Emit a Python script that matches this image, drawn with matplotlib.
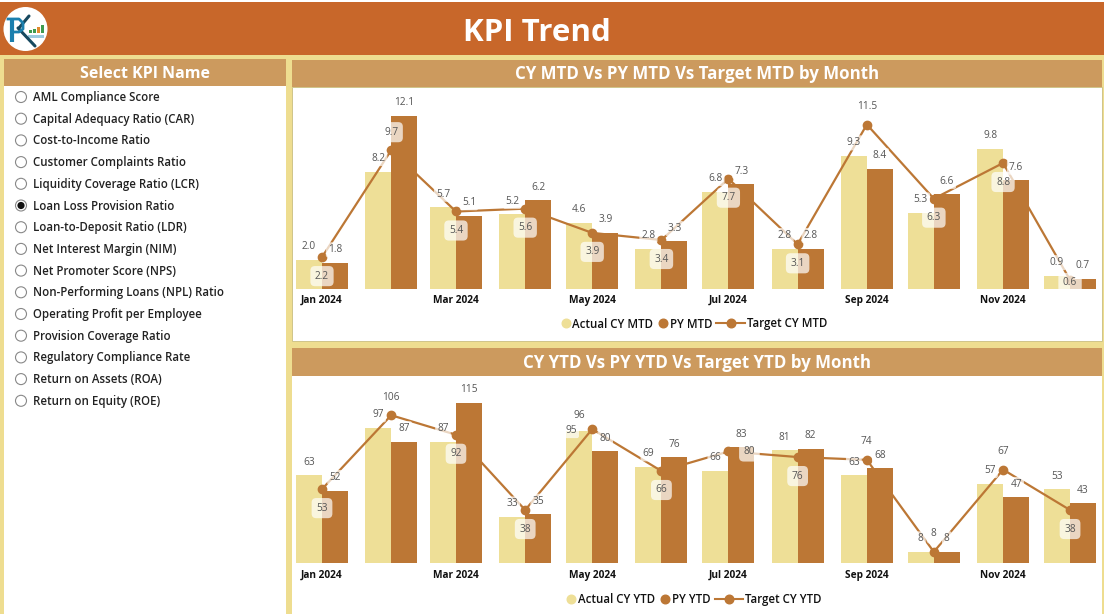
from datetime import datetime, timedelta

import matplotlib
matplotlib.use("Agg")
import matplotlib.dates as mdates
from matplotlib import pyplot as plt
from matplotlib.patches import Circle, Rectangle

plt.rcParams["font.family"] = ["Open Sans", "DejaVu Sans"]

months = [datetime(2024, m, 1) for m in range(1, 13)]
month_labels = ["Jan 2024", "Mar 2024", "May 2024", "Jul 2024", "Sep 2024", "Nov 2024"]

kpi_names = [
    "AML Compliance Score",
    "Capital Adequacy Ratio (CAR)",
    "Cost-to-Income Ratio",
    "Customer Complaints Ratio",
    "Liquidity Coverage Ratio (LCR)",
    "Loan Loss Provision Ratio",
    "Loan-to-Deposit Ratio (LDR)",
    "Net Interest Margin (NIM)",
    "Net Promoter Score (NPS)",
    "Non-Performing Loans (NPL) Ratio",
    "Operating Profit per Employee",
    "Provision Coverage Ratio",
    "Regulatory Compliance Rate",
    "Return on Assets (ROA)",
    "Return on Equity (ROE)",
]
selected_kpi = "Loan Loss Provision Ratio"

actual_mtd = [2.0, 8.2, 5.7, 5.2, 4.6, 2.8, 6.8, 2.8, 9.3, 5.3, 9.8, 0.9]
py_mtd = [1.8, 12.1, 5.1, 6.2, 3.9, 3.3, 7.3, 2.8, 8.4, 6.6, 7.6, 0.7]
target_mtd = [2.2, 9.7, 5.4, 5.6, 3.9, 3.4, 7.7, 3.1, 11.5, 6.3, 8.8, 0.6]

actual_ytd = [63, 97, 87, 33, 95, 69, 66, 81, 63, 8, 57, 53]
py_ytd = [52, 87, 115, 35, 80, 76, 83, 82, 68, 8, 47, 43]
target_ytd = [53, 106, 92, 38, 96, 66, 80, 76, 74, 8, 67, 38]

W, H = 1104, 614
YELLOW = "#EEDD90"
ORANGE = "#C8672A"
TAN = "#CC9A5E"
LIGHT = "#EEDF97"
BROWN = "#BC7735"
LABEL = "#555555"
DAY_PX = 2.233
BAR_DAYS = 26 / DAY_PX

fig = plt.figure(figsize=(W / 100, H / 100), dpi=100, facecolor=YELLOW)

# backdrop in pixel coordinates
bg = fig.add_axes([0, 0, 1, 1])
bg.set_xlim(0, W)
bg.set_ylim(H, 0)
bg.axis("off")


def box(x0, y0, x1, y1, color, edge="none"):
    bg.add_patch(Rectangle((x0, y0), x1 - x0, y1 - y0, fc=color, ec=edge, lw=0.7))


box(0, 0, W, 2, "white")
box(0, 2, W, 55, ORANGE)
bg.text(537, 41, "KPI Trend", color="white", fontsize=22.5, fontweight="bold", ha="center", va="baseline")

# logo
bg.add_patch(Circle((25.5, 29), 22, fc="white", ec="none"))
bg.plot([19, 29], [28, 16], color="#17495F", lw=2.2, solid_capstyle="round")
bg.plot([18, 35], [28, 46], color="#17495F", lw=2.2, solid_capstyle="round")
bg.plot([12, 12], [19, 42], color="#1B7FAE", lw=3, solid_capstyle="butt")
bg.plot([8, 19, 23, 23, 19, 13], [19, 19, 23, 29, 32, 32], color="#1B7FAE", lw=2)
for bx, bh, bc in [(29, 3, "#3E9B4F"), (33, 4, "#3E9B4F"), (37, 6, "#E08A2E"), (41, 8, "#3E9B4F")]:
    box(bx, 33 - bh, bx + 3, 33, bc)
box(28, 35, 44, 38, "#9CCBE0")

# slicer
box(4, 59, 286, 86, TAN)
box(4, 86, 286, H, "white")
bg.text(145, 78, "Select KPI Name", color="white", fontsize=11.5, fontweight="bold", ha="center", va="baseline")
for i, name in enumerate(kpi_names):
    y = 97 + i * 21.7
    bg.add_patch(Circle((21, y), 5.5, fc="white", ec="#888888", lw=0.8))
    if name == selected_kpi:
        bg.add_patch(Circle((21, y), 3.6, fc="#111111", ec="none"))
    bg.text(33, y + 4, name, color="#222222", fontsize=8.3, fontweight="semibold", ha="left", va="baseline")

# chart panels
box(292, 60, 1102, 87, TAN)
box(292, 87, 1102, 341, "white", edge="#CFC48A")
box(292, 348, 1102, 376, TAN)
box(292, 376, 1102, H, "white")
bg.text(697, 79, "CY MTD Vs PY MTD Vs Target MTD by Month", color="white", fontsize=12.2, fontweight="bold", ha="center", va="baseline")
bg.text(697, 368, "CY YTD Vs PY YTD Vs Target YTD by Month", color="white", fontsize=12.2, fontweight="bold", ha="center", va="baseline")


def legend_keys(y, names, text_x, marker_x, line_span):
    # legend is laid out by hand: the keys sit tighter than ax.legend allows
    bg.plot(line_span, [y, y], color=BROWN, lw=1.5)
    for mx, color in zip(marker_x, [LIGHT, BROWN, BROWN]):
        bg.plot([mx], [y], ls="", marker="o", ms=6.2, color=color)
    for tx, name in zip(text_x, names):
        bg.text(tx, y + 4.5, name, fontsize=8.3, fontweight="semibold", color="#111111", ha="left", va="baseline")


def draw_chart(top, baseline, px_per_unit, actual, py, target, fmt, above, moved):
    ax = fig.add_axes([292 / W, 1 - baseline / H, 810 / W, (baseline - top) / H])
    ax.patch.set_alpha(0)
    for side in ax.spines.values():
        side.set_visible(False)

    ax.bar(months, actual, width=-BAR_DAYS, align="edge", color=LIGHT)
    ax.bar(months, py, width=BAR_DAYS, align="edge", color=BROWN)
    ax.plot(months, target, color=BROWN, lw=1.6, marker="o", ms=6, zorder=3)

    ax.set_xlim(months[0] - timedelta(days=30 / DAY_PX), months[0] + timedelta(days=780 / DAY_PX))
    ax.set_ylim(0, (baseline - top) / px_per_unit)
    ax.yaxis.set_visible(False)
    ax.set_xticks(mdates.date2num(months[::2]))
    ax.set_xticklabels(month_labels, fontsize=7.3, fontweight="bold", color="#111111", va="baseline")
    ax.tick_params(axis="x", length=0, pad=10.5)

    bar_box = dict(boxstyle="round,pad=0.2", fc="white", ec="none", alpha=0.7)
    target_box = dict(boxstyle="round,pad=0.45", fc="white", ec="none", alpha=0.7)
    for i, m in enumerate(months):
        dx, dy = moved.get(("actual", i), (-13, 13))
        ax.annotate(fmt.format(actual[i]), (m, actual[i]), xytext=(dx, dy), textcoords="offset pixels",
                    ha="center", va="center", fontsize=7.3, color=LABEL, bbox=bar_box, zorder=5)
        ax.annotate(fmt.format(py[i]), (m, py[i]), xytext=(13, 13), textcoords="offset pixels",
                    ha="center", va="center", fontsize=7.3, color=LABEL, bbox=bar_box, zorder=5)
        default = (0, 18) if i in above else (0, -19)
        dx, dy = moved.get(("target", i), default)
        ax.annotate(fmt.format(target[i]), (m, target[i]), xytext=(dx, dy), textcoords="offset pixels",
                    ha="center", va="center", fontsize=7.3, color=LABEL, bbox=target_box, zorder=5)
    return ax


draw_chart(87, 288.5, 14.26, actual_mtd, py_mtd, target_mtd, "{:.1f}",
           above={1, 8}, moved={("target", 11): (0, -3)})
legend_keys(323, ["Actual CY MTD", "PY MTD", "Target CY MTD"],
            [572, 670, 747], [565.5, 662.5, 731], [716, 745])

draw_chart(376, 563, 1.394, actual_ytd, py_ytd, target_ytd, "{:d}",
           above={1, 8, 9, 10},
           moved={("actual", 4): (-21, 0), ("target", 4): (-13, 14), ("target", 6): (21, 0)})
legend_keys(598.5, ["Actual CY YTD", "PY YTD", "Target CY YTD"],
            [578, 672, 745], [571, 665, 729], [715, 743])

fig.savefig("out.png", dpi=100, facecolor=fig.get_facecolor())
